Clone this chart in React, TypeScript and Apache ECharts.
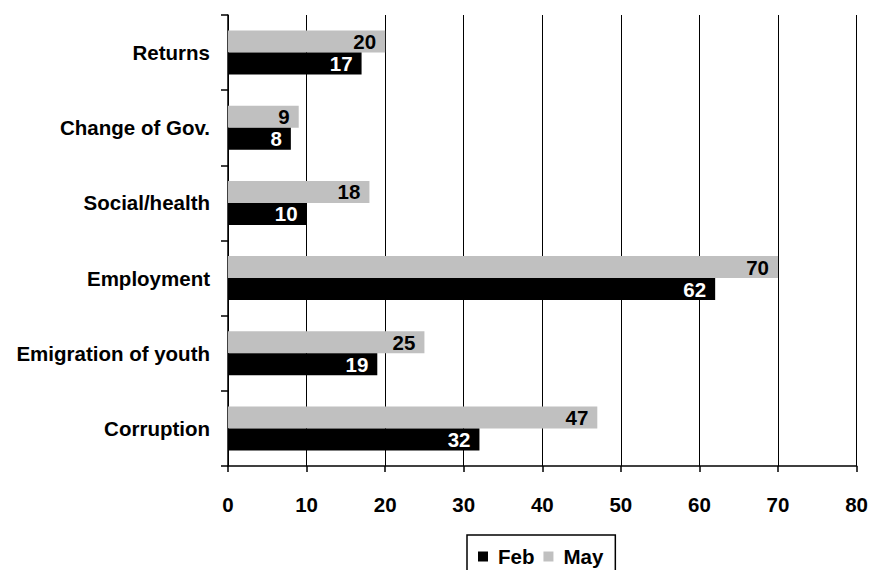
import React, { useEffect, useRef } from "react";
import * as echarts from "echarts";

const categories = ["Corruption", "Emigration of youth", "Employment", "Social/health", "Change of Gov.", "Returns"];
const febValues = [32, 19, 62, 10, 8, 17];
const mayValues = [47, 25, 70, 18, 9, 20];
const seriesNames = ["Feb", "May"];

const FONT = "'Liberation Sans', Arial, sans-serif";

export default function App() {
  const ref = useRef<HTMLDivElement>(null);
  useEffect(() => {
    if (!ref.current) return;
    const chart = echarts.init(ref.current, null, { renderer: "svg" });
    const labelBase = {
      show: true,
      position: "insideRight" as const,
      distance: 9,
      fontFamily: FONT,
      fontWeight: "bold" as const,
      fontSize: 20.5,
    };
    chart.setOption({
      animation: false,
      backgroundColor: "#ffffff",
      textStyle: { fontFamily: FONT },
      grid: { left: 228, right: 14, top: 15, bottom: 104, containLabel: false },
      legend: {
        data: seriesNames,
        left: 467,
        top: 535,
        icon: "rect",
        itemWidth: 10,
        itemHeight: 10,
        itemGap: 9,
        padding: [11, 12, 30, 11],
        borderColor: "#000",
        borderWidth: 1.5,
        textStyle: { fontFamily: FONT, fontWeight: "bold", fontSize: 20.5, color: "#000", padding: [0, 0, 0, 5] },
      },
      xAxis: {
        type: "value",
        min: 0,
        max: 80,
        interval: 10,
        axisLine: { show: true, lineStyle: { color: "#000", width: 1.5 } },
        axisTick: { show: true, length: 6, lineStyle: { color: "#000", width: 1.5 } },
        axisLabel: { fontFamily: FONT, fontWeight: "bold", fontSize: 20.5, color: "#000", margin: 28 },
        splitLine: { show: true, lineStyle: { color: "#000", width: 1 } },
      },
      yAxis: {
        type: "category",
        data: categories,
        axisLine: { show: true, lineStyle: { color: "#000", width: 1.5 } },
        axisTick: { show: true, length: 7, lineStyle: { color: "#000", width: 1.5 } },
        axisLabel: { fontFamily: FONT, fontWeight: "bold", fontSize: 20.5, color: "#000", margin: 18 },
        splitLine: { show: false },
      },
      series: [
        {
          name: "May",
          type: "bar",
          data: mayValues,
          barWidth: 22,
          barGap: "0%",
          itemStyle: { color: "#c0c0c0" },
          label: { ...labelBase, color: "#000000" },
        },
        {
          name: "Feb",
          type: "bar",
          data: febValues,
          barWidth: 22,
          barGap: "0%",
          itemStyle: { color: "#000000" },
          label: { ...labelBase, color: "#ffffff" },
        },
      ],
    });
    return () => chart.dispose();
  }, []);
  return <div ref={ref} style={{ width: 871, height: 570, position: "absolute", left: 0, top: 0 }} />;
}
